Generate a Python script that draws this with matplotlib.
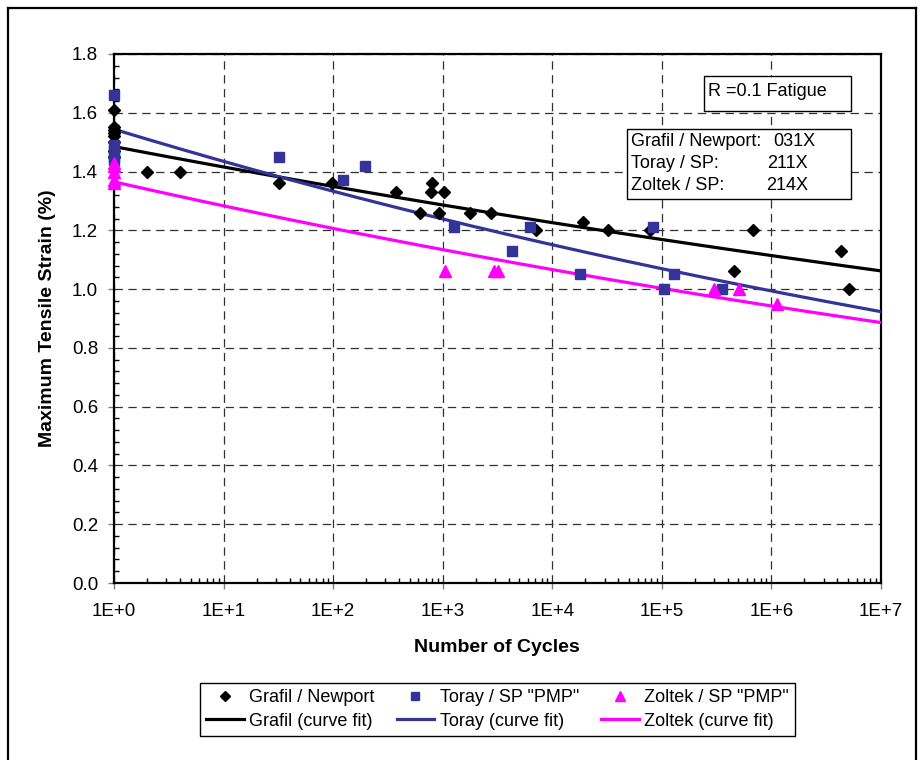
import numpy as np
import matplotlib
matplotlib.use("Agg")
import matplotlib.pyplot as plt
from matplotlib.lines import Line2D
from matplotlib.patches import Rectangle
from matplotlib.ticker import FixedLocator, FuncFormatter, LogLocator, NullFormatter

plt.rcParams['font.family'] = ['Liberation Sans', 'DejaVu Sans']
plt.rcParams['lines.scale_dashes'] = False

# ---- data ----
grafil_n = [1, 1, 1, 1, 1, 1, 1, 1, 2, 4, 32, 98, 372, 794, 782, 1035, 621, 931,
            1775, 2742, 7100, 18900, 32000, 78000, 675000, 453000, 4.3e6, 5.1e6]
grafil_s = [1.61, 1.55, 1.54, 1.53, 1.52, 1.50, 1.47, 1.45, 1.40, 1.40, 1.36, 1.36,
            1.33, 1.36, 1.33, 1.33, 1.26, 1.26, 1.26, 1.26, 1.20, 1.23, 1.20, 1.20,
            1.20, 1.06, 1.13, 1.00]

toray_n = [1, 1, 1, 1, 1, 32, 122, 195, 1276, 4260, 6270, 17900, 82400, 105000,
           129000, 356000]
toray_s = [1.66, 1.49, 1.47, 1.45, 1.44, 1.45, 1.37, 1.42, 1.21, 1.13, 1.21, 1.05,
           1.21, 1.00, 1.05, 1.00]

zoltek_n = [1, 1, 1, 1, 1, 1050, 2960, 3180, 301000, 506000, 1.12e6]
zoltek_s = [1.43, 1.42, 1.40, 1.37, 1.36, 1.06, 1.06, 1.06, 1.00, 1.00, 0.95]

# power-law curve fits: strain = a * N^b
fit_names = ["Grafil", "Toray", "Zoltek"]
fit_a = [1.485, 1.544, 1.365]
fit_b = [-0.0208, -0.0319, -0.0268]

y_ticks = [0.0, 0.2, 0.4, 0.6, 0.8, 1.0, 1.2, 1.4, 1.6, 1.8]
x_ticks = [1e0, 1e1, 1e2, 1e3, 1e4, 1e5, 1e6, 1e7]
x_tick_labels = ["1E+0", "1E+1", "1E+2", "1E+3", "1E+4", "1E+5", "1E+6", "1E+7"]

# ---- figure ----
W, H = 924, 760
fig = plt.figure(figsize=(W / 100, H / 100), dpi=100)

def fx(px):
    return px / W

def fy(py):
    return 1 - py / H

ax = fig.add_axes([fx(114), fy(583), fx(881) - fx(114), fy(54) - fy(583)])

c_black = "#000000"
c_blue = "#333399"
c_mag = "#FF00FF"

N = np.logspace(0, 7, 300)
fit_colors = [c_black, c_blue, c_mag]
fit_lines = []
for a, b, c, nm in zip(fit_a, fit_b, fit_colors, fit_names):
    ln, = ax.plot(N, a * N ** b, color=c, lw=2.3, zorder=3,
                  label=f"{nm} (curve fit)")
    fit_lines.append(ln)

p1, = ax.plot(grafil_n, grafil_s, ls="none", marker="D", ms=6.4, color=c_black,
              zorder=4, clip_on=False, label="Grafil / Newport")
p2, = ax.plot(toray_n, toray_s, ls="none", marker="s", ms=7.8, color=c_blue,
              zorder=5, clip_on=False, label='Toray / SP "PMP"')
p3, = ax.plot(zoltek_n, zoltek_s, ls="none", marker="^", ms=8.8, color=c_mag,
              zorder=6, clip_on=False, label='Zoltek / SP "PMP"')

ax.set_xscale("log")
ax.set_xlim(1, 1e7)
ax.set_ylim(0, 1.8)

ax.xaxis.set_major_locator(FixedLocator(x_ticks))
ax.xaxis.set_major_formatter(FuncFormatter(lambda v, p: x_tick_labels[int(round(np.log10(v)))]))
ax.xaxis.set_minor_locator(LogLocator(base=10, subs=np.arange(2, 10)))
ax.xaxis.set_minor_formatter(NullFormatter())
ax.yaxis.set_major_locator(FixedLocator(y_ticks))
ax.yaxis.set_major_formatter(FuncFormatter(lambda v, p: f"{v:.1f}"))
ax.yaxis.set_minor_locator(FixedLocator(np.arange(0, 1.8001, 0.04)))

ax.tick_params(axis="both", which="major", direction="out", length=4.5, width=1,
               color="#808080", labelsize=13.5)
ax.tick_params(axis="x", which="major", pad=10)
ax.tick_params(axis="y", which="major", pad=7)
ax.tick_params(axis="both", which="minor", direction="in", length=3.5, width=1,
               color="#000000")
ax.tick_params(top=False, right=False, which="both")

for s in ax.spines.values():
    s.set_linewidth(1.6)
    s.set_color("black")

ax.grid(True, which="major", color="#303030", lw=0.9, ls=(0, (6, 4)), zorder=1)
ax.set_axisbelow(True)

fig.text(fx(497), fy(648), "Number of Cycles", ha="center", va="center",
         fontsize=14, fontweight="bold")
fig.text(fx(48), fy(318), "Maximum Tensile Strain (%)", ha="center", va="center",
         rotation=90, fontsize=14, fontweight="bold")

# text boxes
fig.patches.append(Rectangle((fx(704), fy(111)), fx(851) - fx(704), fy(76) - fy(111),
                             transform=fig.transFigure, fill=True, facecolor="white",
                             edgecolor="black", lw=1, zorder=10))
fig.text(fx(708), fy(92), "R =0.1 Fatigue", ha="left", va="center", fontsize=13, zorder=11)

fig.patches.append(Rectangle((fx(627), fy(199)), fx(851) - fx(627), fy(129) - fy(199),
                             transform=fig.transFigure, fill=True, facecolor="white",
                             edgecolor="black", lw=1, zorder=10))
box_rows = [("Grafil / Newport:", "031X", 773, 141),
            ("Toray / SP:", "211X", 767, 164),
            ("Zoltek / SP:", "214X", 766, 186)]
for lab, code, cx, ry in box_rows:
    fig.text(fx(631), fy(ry), lab, ha="left", va="center", fontsize=13, zorder=11)
    fig.text(fx(cx), fy(ry), code, ha="left", va="center", fontsize=13, zorder=11)

# legend
handles = [p1, fit_lines[0], p2, fit_lines[1], p3, fit_lines[2]]
leg = fig.legend(handles=handles, labels=[h.get_label() for h in handles],
                 ncol=3, loc="center", bbox_to_anchor=(fx(497.5), fy(709.5)),
                 fontsize=13, frameon=True, fancybox=False, framealpha=1,
                 edgecolor="black", handlelength=2.1, handletextpad=0.3,
                 columnspacing=1.2, labelspacing=0.35, borderpad=0.35,
                 markerscale=0.75, borderaxespad=0)
leg.get_frame().set_linewidth(1.0)

# outer chart border
for xs, ys in [([fx(8), fx(8)], [0, fy(8)]),
               ([fx(8), fx(916)], [fy(8), fy(8)]),
               ([fx(916), fx(916)], [fy(8), 0])]:
    fig.add_artist(Line2D(xs, ys, transform=fig.transFigure, color="black", lw=1.6))

fig.savefig("out.png", dpi=100)
